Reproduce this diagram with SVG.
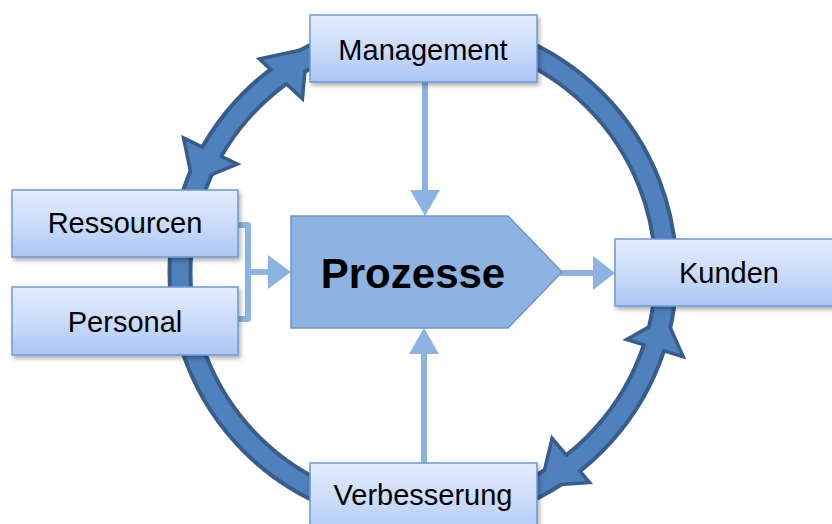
<svg xmlns="http://www.w3.org/2000/svg" width="832" height="524" viewBox="0 0 832 524">
<defs>
<linearGradient id="boxGrad" x1="0" y1="0" x2="0" y2="1">
<stop offset="0" stop-color="#e3ecfd"/>
<stop offset="0.5" stop-color="#cbdcf9"/>
<stop offset="1" stop-color="#a9c6f5"/>
</linearGradient>
<filter id="shadow" x="-10%" y="-20%" width="125%" height="150%">
<feDropShadow dx="2" dy="3" stdDeviation="2" flood-color="#000" flood-opacity="0.3"/>
</filter>
</defs>
<style>
.box{fill:url(#boxGrad);stroke:#6e98d2;stroke-width:1.5;filter:url(#shadow)}
.lbl{font-family:"Liberation Sans",Arial,sans-serif;font-size:29px;fill:#000;text-anchor:middle}
.big{font-family:"Liberation Sans",Arial,sans-serif;font-size:42px;font-weight:bold;fill:#000;text-anchor:middle}
.ringOut{fill:none;stroke:#385d8a;stroke-width:25}
.ringIn{fill:none;stroke:#4f81bd;stroke-width:17}
.headOut{fill:#385d8a;stroke:#385d8a;stroke-width:7;stroke-linejoin:miter}
.headIn{fill:#4f81bd}
.light{fill:none;stroke:#8db3e2;stroke-width:6}
.lightHead{fill:#8db3e2}
</style>
<g id="connectors">
<g id="cycle">
<circle class="ringOut" cx="423" cy="272" r="243"/>
<polygon class="headOut" points="263,60 305,51 301,95"/>
<polygon class="headOut" points="186,141 194,180 233,164"/>
<polygon class="headOut" points="631,339 665,320 680,354"/>
<polygon class="headOut" points="553,442 543,484 586,481"/>
<circle class="ringIn" cx="423" cy="272" r="243"/>
<polygon class="headIn" points="263,60 305,51 301,95"/>
<polygon class="headIn" points="186,141 194,180 233,164"/>
<polygon class="headIn" points="631,339 665,320 680,354"/>
<polygon class="headIn" points="553,442 543,484 586,481"/>
</g>
<g id="mgmt-to-proc">
<line class="light" x1="425" y1="82" x2="425" y2="192"/>
<polygon class="lightHead" points="410,190 425,216 440,190"/>
</g>
<g id="verb-to-proc">
<line class="light" x1="424" y1="463" x2="424" y2="352"/>
<polygon class="lightHead" points="409,354 424,328 439,354"/>
</g>
<g id="proc-to-kunden">
<line class="light" x1="560" y1="273" x2="595" y2="273"/>
<polygon class="lightHead" points="593,256 615,273 593,290"/>
</g>
<g id="inputs-to-proc">
<path class="light" d="M238,225 H248 V319 H238" stroke-linejoin="round"/>
<line class="light" x1="248" y1="272" x2="270" y2="272"/>
<polygon class="lightHead" points="268,255 291,272 268,289"/>
</g>
</g>
<g id="management">
<rect class="box" x="310" y="15" width="227" height="67"/>
<text class="lbl" x="423" y="60">Management</text>
</g>
<g id="ressourcen">
<rect class="box" x="12" y="190" width="226" height="67"/>
<text class="lbl" x="125" y="233">Ressourcen</text>
</g>
<g id="personal">
<rect class="box" x="12" y="287" width="226" height="68"/>
<text class="lbl" x="125" y="332">Personal</text>
</g>
<g id="kunden">
<rect class="box" x="615" y="239" width="235" height="67"/>
<text class="lbl" x="729" y="283">Kunden</text>
</g>
<g id="verbesserung">
<rect class="box" x="310" y="463" width="227" height="75"/>
<text class="lbl" x="423" y="505">Verbesserung</text>
</g>
<g id="prozesse">
<polygon points="291,216 508,216 562,272 508,328 291,328" fill="#8db3e2" stroke="#6b94c9" stroke-width="1.5"/>
<text class="big" x="413" y="288">Prozesse</text>
</g>
</svg>
